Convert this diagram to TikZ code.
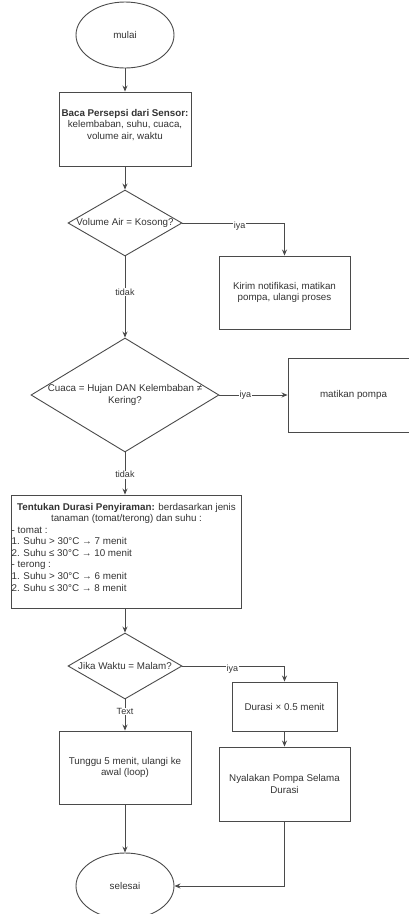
\documentclass[tikz,border=0pt]{standalone}
\usepackage{fontspec}
\setmainfont{Liberation Sans}
\usetikzlibrary{shapes.geometric,arrows.meta}
\definecolor{lncol}{HTML}{4A4A4A}
\definecolor{txtcol}{HTML}{333333}
\tikzset{
  base/.style={draw=lncol, line width=0.9pt, text=txtcol, inner sep=1pt,
    font=\fontsize{9.8}{11.8}\selectfont, align=center},
  procbox/.style={base, rectangle},
  oval/.style={base, ellipse},
  decision/.style={base, diamond, inner sep=0pt},
  plain/.style={text=txtcol, inner sep=0pt, font=\fontsize{9.8}{11.6}\selectfont},
  edge/.style={draw=lncol, line width=0.9pt, -{Stealth[length=6pt,width=5pt]}},
  lbl/.style={fill=white, text=txtcol, inner sep=0.6pt, font=\fontsize{9}{10}\selectfont},
}
\begin{document}
\begin{tikzpicture}[x=1pt, y=-1pt]
\useasboundingbox (0,0) rectangle (409,914);

% start
\node[oval, minimum width=98pt, minimum height=66pt] (mulai) at (125,35) {mulai};
\node[procbox, minimum width=132pt, minimum height=74pt] (baca) at (125,129) {};
\node[plain, align=center] (bacat) at (125,125)
  {\textbf{Baca Persepsi dari Sensor:}\\kelembaban, suhu, cuaca,\\volume air, waktu};

% decision 1
\node[decision, minimum width=114pt, minimum height=66pt] (d1) at (125,223) {};
\node[plain] (d1t) at (125,223) {Volume Air = Kosong?};
\node[procbox, minimum width=131pt, minimum height=73pt] (kirim) at (284.5,292.5)
  {Kirim notifikasi, matikan\\pompa, ulangi proses};

% decision 2
\node[decision, minimum width=188pt, minimum height=114pt] (d2) at (125,395) {};
\node[plain, align=center] (d2t) at (125,395) {Cuaca = Hujan DAN Kelembaban ≠\\Kering?};
\node[procbox, minimum width=131pt, minimum height=74pt] (mati) at (353.5,395) {matikan pompa};

% durasi
\node[procbox, minimum width=230pt, minimum height=113pt] (tentu) at (126,551.5) {};
\node[plain, align=center, anchor=north] (tentuA) at (126.5,503)
  {\textbf{Tentukan Durasi Penyiraman:} berdasarkan jenis\\tanaman (tomat/terong) dan suhu :};
\node[plain, align=left, anchor=north west] (tentuB) at (11.5,526.5)
  {- tomat :\\1. Suhu > 30°C → 7 menit\\2. Suhu ≤ 30°C → 10 menit\\- terong :\\1. Suhu > 30°C → 6 menit\\2. Suhu ≤ 30°C → 8 menit};

% decision 3
\node[decision, minimum width=114pt, minimum height=66pt] (d3) at (125,666) {};
\node[plain] (d3t) at (125,666) {Jika Waktu = Malam?};
\node[procbox, minimum width=105pt, minimum height=49pt] (kali) at (284.5,706.5) {Durasi × 0.5 menit};
\node[procbox, minimum width=132pt, minimum height=73pt] (tunggu) at (125,767.5)
  {Tunggu 5 menit, ulangi ke\\awal (loop)};
\node[procbox, minimum width=131pt, minimum height=74pt] (nyala) at (284.5,784)
  {Nyalakan Pompa Selama\\Durasi};
\node[oval, minimum width=98pt, minimum height=66pt] (selesai) at (125,886) {selesai};

% connectors
\draw[edge] (mulai) -- (baca);
\draw[edge] (baca) -- (d1.north);
\draw[edge] (d1.east) -| node[lbl, pos=0.28, yshift=-3pt] {iya} (kirim.north);
\draw[edge] (d1.south) -- node[lbl, pos=0.44] {tidak} (d2.north);
\draw[edge] (d2.east) -- node[lbl, pos=0.38] {iya} (mati.west);
\draw[edge] (d2.south) -- node[lbl, pos=0.53] {tidak} (tentu.north -| d2.south);
\draw[edge] (tentu.south -| d3.north) -- (d3.north);
\draw[edge] (d3.east) -| node[lbl, pos=0.245, yshift=-3pt] {iya} (kali.north);
\draw[edge] (d3.south) -- node[lbl, pos=0.39] {Text} (tunggu.north);
\draw[edge] (kali) -- (nyala);
\draw[edge] (tunggu) -- (selesai);
\draw[edge] (nyala.south) |- (selesai.east);
\end{tikzpicture}
\end{document}
